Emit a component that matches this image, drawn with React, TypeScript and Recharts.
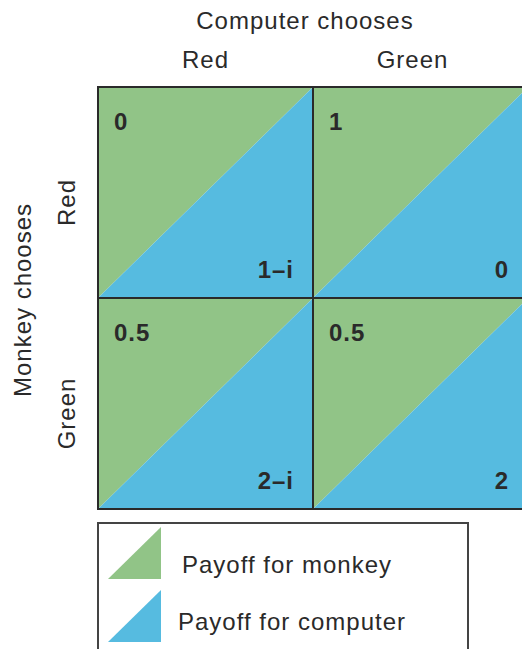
import { ComposedChart, XAxis, YAxis, ReferenceArea, Legend } from 'recharts'

// payoff matrix: rows = monkey's choice, columns = computer's choice
const computerChoices = ['Red', 'Green']
const monkeyChoices = ['Red', 'Green']
const monkeyPayoffs = [['0', '1'], ['0.5', '0.5']]
const computerPayoffs = [['1–i', '0'], ['2–i', '2']]
const legendLabels = ['Payoff for monkey', 'Payoff for computer']

const GREEN = '#91c487'
const BLUE = '#56bbe0'
const INK = '#2a2a2a'
const FONT = '"Liberation Sans", Arial, sans-serif'

const cells = monkeyChoices.flatMap((_, r) =>
  computerChoices.map((_, c) => ({
    row: r,
    col: c,
    monkey: monkeyPayoffs[r][c],
    computer: computerPayoffs[r][c],
  }))
)

function PayoffCell(props: any) {
  const { x, y, width: w, height: h, monkey, computer } = props
  return (
    <g>
      <polygon points={`${x},${y} ${x + w},${y} ${x},${y + h}`} fill={GREEN} />
      <polygon points={`${x + w},${y} ${x + w},${y + h} ${x},${y + h}`} fill={BLUE} />
      <rect x={x} y={y} width={w} height={h} fill="none" stroke={INK} strokeWidth={2} />
      <text x={x + 16} y={y + 43} fontSize={24} fontWeight="bold" fill={INK} fontFamily={FONT} letterSpacing={1}>
        {monkey}
      </text>
      <text x={x + w - 19} y={y + h - 20} fontSize={24} fontWeight="bold" fill={INK} fontFamily={FONT} textAnchor="end" letterSpacing={1}>
        {computer}
      </text>
    </g>
  )
}

const TopTick = ({ x, y, index }: any) => (
  <text x={x + (index === 1 ? -8 : 0)} y={y - 11} textAnchor="middle" fontSize={24} fill={INK} fontFamily={FONT} letterSpacing={1}>
    {computerChoices[index]}
  </text>
)

const LeftTick = ({ y, index }: any) => {
  const cx = 75
  const cy = y + 10
  return (
    <text x={cx} y={cy} transform={`rotate(-90, ${cx}, ${cy})`} textAnchor="middle" fontSize={24} fill={INK} fontFamily={FONT} letterSpacing={1}>
      {monkeyChoices[index]}
    </text>
  )
}

function LegendBox() {
  return (
    <svg width={372} height={135} style={{ display: 'block' }}>
      <rect x={1} y={1} width={370} height={145} fill="#fff" stroke="#444" strokeWidth={2} />
      <polygon points="11,57 64,57 64,5" fill={GREEN} />
      <polygon points="11,120 64,120 64,68" fill={BLUE} />
      <text x={85} y={51} fontSize={24} fill={INK} fontFamily={FONT} letterSpacing={1}>{legendLabels[0]}</text>
      <text x={81} y={108} fontSize={24} fill={INK} fontFamily={FONT} letterSpacing={1}>{legendLabels[1]}</text>
    </svg>
  )
}

export default function App() {
  return (
    <div style={{ position: 'absolute', left: 0, top: 0, width: 522, height: 649, overflow: 'hidden', background: '#fff' }}>
      <ComposedChart width={522} height={649} data={cells} margin={{ top: 0, right: -6, bottom: 140, left: 0 }}>
        <XAxis
          xAxisId="col"
          dataKey="col"
          type="number"
          orientation="top"
          domain={[0, 2]}
          ticks={[0.5, 1.5]}
          height={87}
          axisLine={false}
          tickLine={false}
          tick={<TopTick />}
          label={{
            content: (p: any) => {
              const vb = p.viewBox || { x: 98, width: 430 }
              return (
                <text x={vb.x + vb.width / 2 - 8} y={29} textAnchor="middle" fontSize={24} fill={INK} fontFamily={FONT} letterSpacing={1}>
                  Computer chooses
                </text>
              )
            },
          }}
        />
        <YAxis
          yAxisId="row"
          dataKey="row"
          type="number"
          reversed
          domain={[0, 2]}
          ticks={[0.5, 1.5]}
          width={98}
          axisLine={false}
          tickLine={false}
          tick={<LeftTick />}
          label={{
            content: (p: any) => {
              const vb = p.viewBox || { y: 87, height: 422 }
              const cx = 31
              const cy = vb.y + vb.height / 2 + 2
              return (
                <text x={cx} y={cy} transform={`rotate(-90, ${cx}, ${cy})`} textAnchor="middle" fontSize={24} fill={INK} fontFamily={FONT} letterSpacing={1}>
                  Monkey chooses
                </text>
              )
            },
          }}
        />
        {cells.map((cell) => (
          <ReferenceArea
            key={`cell-${cell.row}-${cell.col}`}
            xAxisId="col"
            yAxisId="row"
            x1={cell.col}
            x2={cell.col + 1}
            y1={cell.row}
            y2={cell.row + 1}
            shape={(p: any) => <PayoffCell {...p} monkey={cell.monkey} computer={cell.computer} />}
          />
        ))}
        <Legend
          layout="horizontal"
          verticalAlign="middle"
          align="center"
          content={() => <LegendBox />}
          wrapperStyle={{ position: 'absolute', left: 97, top: 522, width: 372, height: 135 }}
        />
      </ComposedChart>
    </div>
  )
}
